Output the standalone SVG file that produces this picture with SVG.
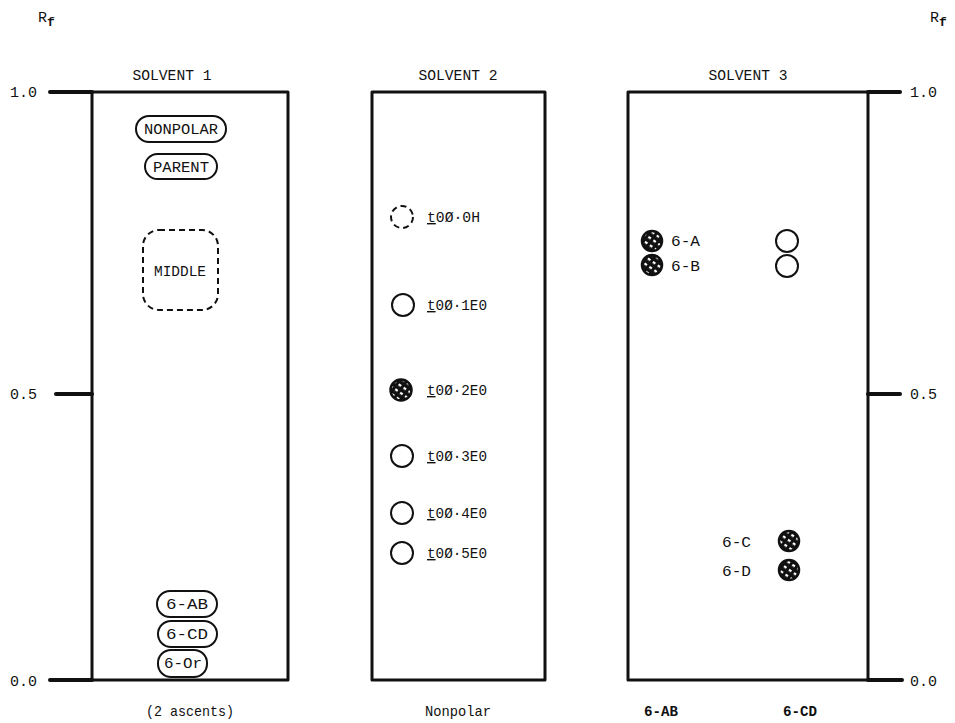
<svg xmlns="http://www.w3.org/2000/svg" width="955" height="723" viewBox="0 0 955 723">
<style>
text{font-family:"Liberation Mono","DejaVu Sans Mono",monospace;fill:#111}
.t{font-size:15px}
.s{font-size:15px}
.m{font-size:14px}
.ax{font-size:15px}
.frame{fill:none;stroke:#111;stroke-width:3;stroke-linejoin:round}
.tick{stroke:#111;stroke-width:4;stroke-linecap:round}
.pill{fill:#fff;stroke:#111;stroke-width:2}
.open{fill:#fff;stroke:#111;stroke-width:2}
.dash{fill:none;stroke:#111;stroke-width:2;stroke-dasharray:6 4}
.hatch{fill:url(#hp);stroke:#111;stroke-width:2.5}
.b{font-weight:bold}
</style>
<defs>
<pattern id="hp" width="6" height="6" patternUnits="userSpaceOnUse" patternTransform="rotate(35)">
<rect width="6" height="6" fill="#111"/>
<rect x="1" y="1" width="3" height="2.2" fill="#fff"/>
</pattern>
</defs>
<g id="axes">
<text x="38" y="22" class="ax">R<tspan font-size="13" font-weight="bold" dy="4">f</tspan></text>
<text x="930" y="22" class="ax">R<tspan font-size="13" font-weight="bold" dy="4">f</tspan></text>
<text x="10" y="97" class="ax">1.0</text>
<text x="10" y="399" class="ax">0.5</text>
<text x="10" y="686" class="ax">0.0</text>
<text x="910" y="97" class="ax">1.0</text>
<text x="910" y="399" class="ax">0.5</text>
<text x="910" y="686" class="ax">0.0</text>
<line class="tick" x1="50" y1="92" x2="92" y2="92"/>
<line class="tick" x1="56" y1="394" x2="92" y2="394"/>
<line class="tick" x1="50" y1="680" x2="92" y2="680"/>
<line class="tick" x1="868" y1="92" x2="900" y2="92"/>
<line class="tick" x1="868" y1="394" x2="900" y2="394"/>
<line class="tick" x1="868" y1="680" x2="902" y2="680"/>
</g>
<g id="solvent1">
<rect class="frame" x="92" y="92" width="196" height="588"/>
<text x="172" y="80" class="t" text-anchor="middle" textLength="79" lengthAdjust="spacingAndGlyphs">SOLVENT 1</text>
<text x="190" y="716" class="t" text-anchor="middle" textLength="88" lengthAdjust="spacingAndGlyphs">(2 ascents)</text>
</g>
<g id="nonpolar"><rect class="pill" x="136" y="116" width="90" height="26" rx="13"/><text x="181" y="134" class="s" text-anchor="middle" textLength="74" lengthAdjust="spacingAndGlyphs">NONPOLAR</text></g>
<g id="parent"><rect class="pill" x="145" y="154" width="72" height="25" rx="12.5"/><text x="181" y="172" class="s" text-anchor="middle" textLength="56" lengthAdjust="spacingAndGlyphs">PARENT</text></g>
<g id="middle"><rect class="dash" x="143" y="230" width="75" height="80" rx="16" stroke-dasharray="7 4 2 4"/><text x="180" y="276" class="s" text-anchor="middle" textLength="52" lengthAdjust="spacingAndGlyphs">MIDDLE</text></g>
<g id="p6ab"><rect class="pill" x="157" y="591" width="60" height="26" rx="13"/><text x="187" y="609" class="s" text-anchor="middle" textLength="42" lengthAdjust="spacingAndGlyphs">6-AB</text></g>
<g id="p6cd"><rect class="pill" x="158" y="621" width="59" height="26" rx="13"/><text x="187" y="639" class="s" text-anchor="middle" textLength="42" lengthAdjust="spacingAndGlyphs">6-CD</text></g>
<g id="p6or"><rect class="pill" x="158" y="650" width="49" height="27" rx="13"/><text x="183" y="668" class="s" text-anchor="middle" textLength="38" lengthAdjust="spacingAndGlyphs">6-Or</text></g>
<g id="solvent2">
<rect class="frame" x="372" y="92" width="173" height="588"/>
<text x="458" y="80" class="t" text-anchor="middle" textLength="79" lengthAdjust="spacingAndGlyphs">SOLVENT 2</text>
<text x="458" y="716" class="t" text-anchor="middle" textLength="66" lengthAdjust="spacingAndGlyphs">Nonpolar</text>
</g>
<g id="s2-0"><circle class="dash" cx="402" cy="217" r="11" stroke-dasharray="6 3"/><text x="427" y="222" class="m" textLength="53" lengthAdjust="spacingAndGlyphs"><tspan text-decoration="underline">t</tspan>0Ø·0H</text></g>
<g id="s2-1"><circle class="open" cx="403" cy="305" r="11"/><text x="427" y="310" class="m" textLength="60" lengthAdjust="spacingAndGlyphs"><tspan text-decoration="underline">t</tspan>0Ø·1E0</text></g>
<g id="s2-2"><circle class="hatch" cx="401" cy="390" r="10.5"/><text x="427" y="395" class="m" textLength="60" lengthAdjust="spacingAndGlyphs"><tspan text-decoration="underline">t</tspan>0Ø·2E0</text></g>
<g id="s2-3"><circle class="open" cx="402" cy="456" r="11"/><text x="427" y="461" class="m" textLength="60" lengthAdjust="spacingAndGlyphs"><tspan text-decoration="underline">t</tspan>0Ø·3E0</text></g>
<g id="s2-4"><circle class="open" cx="402" cy="513" r="11"/><text x="427" y="518" class="m" textLength="60" lengthAdjust="spacingAndGlyphs"><tspan text-decoration="underline">t</tspan>0Ø·4E0</text></g>
<g id="s2-5"><circle class="open" cx="402" cy="553" r="11"/><text x="427" y="558" class="m" textLength="60" lengthAdjust="spacingAndGlyphs"><tspan text-decoration="underline">t</tspan>0Ø·5E0</text></g>
<g id="solvent3">
<rect class="frame" x="628" y="92" width="240" height="588"/>
<text x="748" y="80" class="t" text-anchor="middle" textLength="79" lengthAdjust="spacingAndGlyphs">SOLVENT 3</text>
<text x="661" y="716" class="t b" text-anchor="middle" textLength="34" lengthAdjust="spacingAndGlyphs">6-AB</text>
<text x="800" y="716" class="t b" text-anchor="middle" textLength="34" lengthAdjust="spacingAndGlyphs">6-CD</text>
</g>
<g id="s3-a"><circle class="hatch" cx="652" cy="241" r="10"/><text x="671" y="246" class="s" textLength="29" lengthAdjust="spacingAndGlyphs">6-A</text><circle class="open" cx="787" cy="241" r="11"/></g>
<g id="s3-b"><circle class="hatch" cx="652" cy="265" r="10"/><text x="671" y="271" class="s" textLength="29" lengthAdjust="spacingAndGlyphs">6-B</text><circle class="open" cx="787" cy="266" r="11"/></g>
<g id="s3-c"><text x="722" y="547" class="s" textLength="29" lengthAdjust="spacingAndGlyphs">6-C</text><circle class="hatch" cx="789" cy="541" r="10"/></g>
<g id="s3-d"><text x="722" y="576" class="s" textLength="29" lengthAdjust="spacingAndGlyphs">6-D</text><circle class="hatch" cx="789" cy="570" r="10"/></g>
</svg>
